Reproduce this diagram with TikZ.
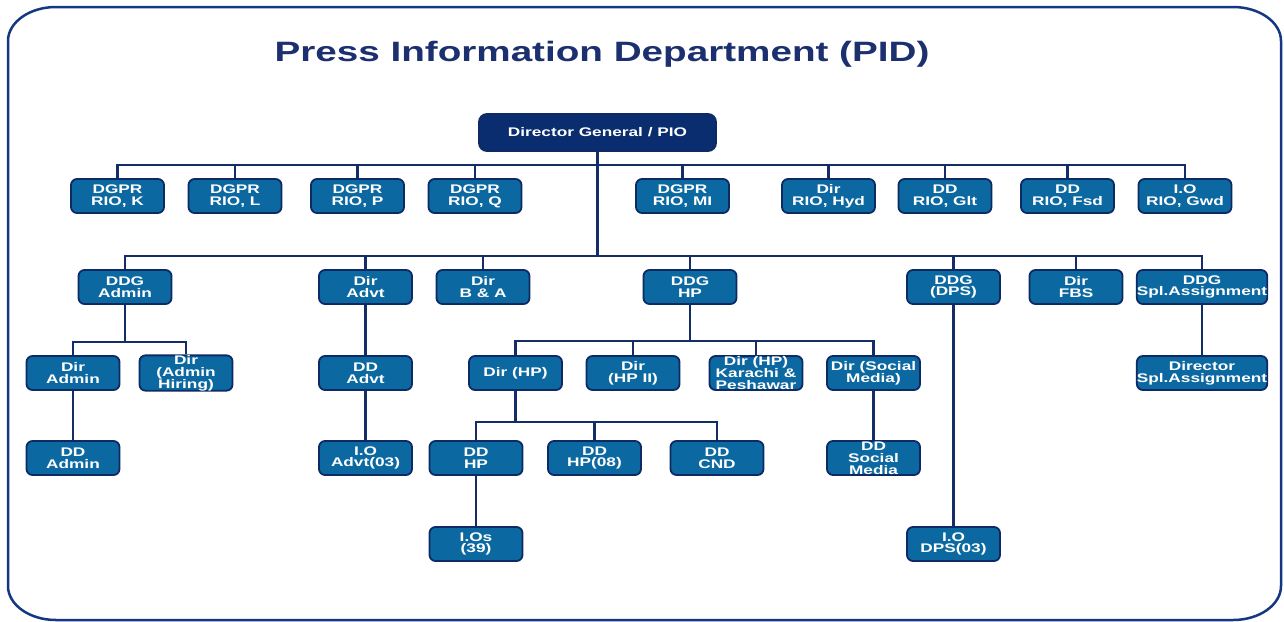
\documentclass[tikz,border=0pt]{standalone}
\usepackage{fontspec}
\setmainfont{Liberation Sans}
\newfontfamily\wide[FakeStretch=1.38]{Liberation Sans}
\definecolor{boxfill}{RGB}{12,104,160}
\definecolor{boxline}{RGB}{14,42,100}
\definecolor{dgfill}{RGB}{10,45,112}
\definecolor{conncol}{RGB}{20,45,105}
\definecolor{titlecol}{RGB}{28,47,110}
\definecolor{framecol}{RGB}{20,55,130}
\tikzset{
  box/.style={draw=boxline, fill=boxfill, line width=1.8pt, rounded corners=6pt,
    minimum width=93pt, minimum height=34pt, inner sep=0pt, text=white, align=center,
    font=\wide\bfseries\fontsize{12.5}{11.8}\selectfont},
  widebox/.style={box, minimum width=128pt},
  dgbox/.style={box, fill=dgfill, minimum width=237pt, minimum height=37pt, rounded corners=8pt},
  conn/.style={draw=conncol, line width=2.5pt},
  frame/.style={draw=framecol, line width=2.5pt},
}
\begin{document}
\begin{tikzpicture}[x=1pt,y=-1pt]
\useasboundingbox (0,0) rectangle (1284,621);
\draw[frame] (8,41) -- (8,586) arc[start angle=180,end angle=90,x radius=48,y radius=34]
  -- (1233,620) arc[start angle=90,end angle=0,x radius=48,y radius=34]
  -- (1281,41) arc[start angle=0,end angle=-90,x radius=48,y radius=34]
  -- (56,7) arc[start angle=-90,end angle=-180,x radius=48,y radius=34] -- cycle;

\node[text=titlecol, font=\wide\bfseries\fontsize{28}{30}\selectfont] (title) at (602,54) {Press Information Department (PID)};

\coordinate (b1) at (0,165);
\coordinate (b2) at (0,256);
\coordinate (b3a) at (0,342);
\coordinate (b3h) at (0,341);
\coordinate (b4) at (0,422);

% nodes
\node[dgbox] (dg) at (597.5,132.5) {Director General / PIO};

\node[box] (k) at (117.5,196) {DGPR\\RIO, K};
\node[box] (l) at (235,196) {DGPR\\RIO, L};
\node[box] (p) at (357.5,196) {DGPR\\RIO, P};
\node[box] (q) at (475,196) {DGPR\\RIO, Q};
\node[box] (mi) at (682.5,196) {DGPR\\RIO, MI};
\node[box] (hyd) at (828.5,196) {Dir\\RIO, Hyd};
\node[box] (glt) at (945,196) {DD\\RIO, Glt};
\node[box] (fsd) at (1067.5,196) {DD\\RIO, Fsd};
\node[box] (gwd) at (1185,196) {I.O\\RIO, Gwd};

\node[box] (ddgadmin) at (125,287) {DDG\\Admin};
\node[box] (diradvt) at (365.5,287) {Dir\\Advt};
\node[box] (ba) at (483,287) {Dir\\B \& A};
\node[box] (ddghp) at (690,287) {DDG\\HP};
\node[box] (dps) at (953.5,287) {DDG\\(DPS)};
\node[box] (fbs) at (1076,287) {Dir\\FBS};
\node[widebox] (spl) at (1202,287) {DDG\\Spl.Assignment};

\node[box] (diradmin) at (73,373) {Dir\\Admin};
\node[box] (hiring) at (186,373) {Dir\\(Admin\\Hiring)};
\node[box] (ddadvt) at (365.5,373) {DD\\Advt};
\node[box] (dirhp) at (515.5,373) {Dir (HP)};
\node[box] (hpii) at (633,373) {Dir\\(HP II)};
\node[box] (karachi) at (756,373) {Dir (HP)\\Karachi \&\\Peshawar};
\node[box] (social) at (873.5,373) {Dir (Social\\Media)};
\node[widebox] (dirspl) at (1202,373) {Director\\Spl.Assignment};

\node[box] (ddadmin) at (73,458) {DD\\Admin};
\node[box] (ioadvt) at (365.5,458) {I.O\\Advt(03)};
\node[box] (ddhp) at (476,458) {DD\\HP};
\node[box] (hp08) at (594.5,458) {DD\\HP(08)};
\node[box] (cnd) at (717,458) {DD\\CND};
\node[box] (ddsocial) at (873.5,458) {DD\\Social\\Media};

\node[box] (ios) at (476,544) {I.Os\\(39)};
\node[box] (iodps) at (953.5,544) {I.O\\DPS(03)};

% connectors
\draw[conn] (dg.south) -- (dg.south |- b2);
\draw[conn] (k.north) -- (k.north |- b1) -- (gwd.north |- b1) -- (gwd.north);
\foreach \n in {l,p,q,mi,hyd,glt,fsd} \draw[conn] (\n.north) -- (\n.north |- b1);

\draw[conn] (ddgadmin.north) -- (ddgadmin.north |- b2) -- (spl.north |- b2) -- (spl.north);
\foreach \n in {diradvt,ba,ddghp,dps,fbs} \draw[conn] (\n.north) -- (\n.north |- b2);

\draw[conn] (ddgadmin.south) -- (ddgadmin.south |- b3a);
\draw[conn] (diradmin.north) -- (diradmin.north |- b3a) -- (hiring.north |- b3a) -- (hiring.north);
\draw[conn] (diradmin.south) -- (ddadmin.north);

\draw[conn] (diradvt.south) -- (ddadvt.north);
\draw[conn] (ddadvt.south) -- (ioadvt.north);

\draw[conn] (ddghp.south) -- (ddghp.south |- b3h);
\draw[conn] (dirhp.north) -- (dirhp.north |- b3h) -- (social.north |- b3h) -- (social.north);
\foreach \n in {hpii,karachi} \draw[conn] (\n.north) -- (\n.north |- b3h);

\draw[conn] (dirhp.south) -- (dirhp.south |- b4);
\draw[conn] (ddhp.north) -- (ddhp.north |- b4) -- (cnd.north |- b4) -- (cnd.north);
\draw[conn] (hp08.north) -- (hp08.north |- b4);
\draw[conn] (ddhp.south) -- (ios.north);

\draw[conn] (social.south) -- (ddsocial.north);
\draw[conn] (dps.south) -- (iodps.north);
\draw[conn] (spl.south) -- (dirspl.north);
\end{tikzpicture}
\end{document}
